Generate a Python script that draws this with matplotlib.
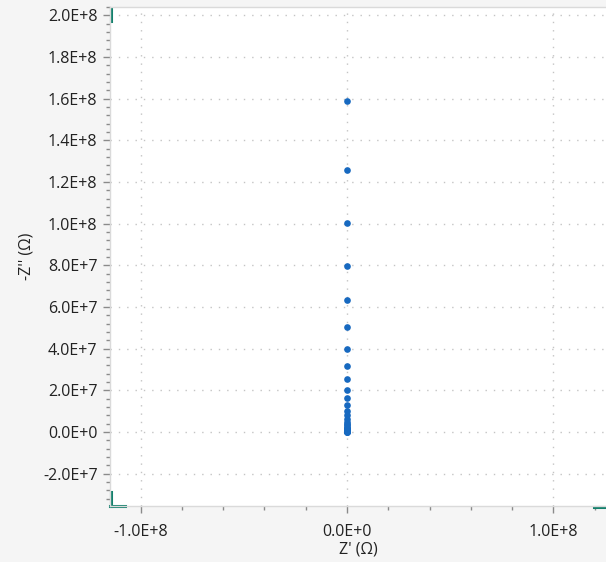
import matplotlib
matplotlib.use("Agg")
import matplotlib.pyplot as plt
from matplotlib.ticker import MultipleLocator, FuncFormatter

# Data
z_real = [0.0] * 31
z_imag_neg = [1.59e8, 1.26e8, 1.005e8, 7.98e7, 6.34e7, 5.03e7, 4.0e7, 3.18e7,
              2.55e7, 2.02e7, 1.62e7, 1.28e7, 1.01e7, 8.0e6, 6.34e6, 5.03e6,
              4.0e6, 3.18e6, 2.52e6, 2.0e6, 1.59e6, 1.26e6, 1.0e6, 7.98e5,
              6.34e5, 5.03e5, 4.0e5, 3.18e5, 2.52e5, 2.0e5, 1.59e5]
x_ticks = [-1.0e8, 0.0, 1.0e8]
y_ticks = [-2.0e7, 0.0, 2.0e7, 4.0e7, 6.0e7, 8.0e7, 1.0e8, 1.2e8, 1.4e8, 1.6e8, 1.8e8, 2.0e8]

plt.rcParams['font.family'] = ['Open Sans', 'DejaVu Sans']

W, H = 606, 562
fig = plt.figure(figsize=(W / 100, H / 100), dpi=100, facecolor='#f5f5f5')
L, R, T, B = 110, 606, 7, 506
ax = fig.add_axes([L / W, 1 - B / H, (R - L) / W, (B - T) / H])
ax.set_facecolor('white')

ax.plot(z_real, z_imag_neg, 'o', color='#1769c0', markersize=4.8, markeredgewidth=0, zorder=3)

ax.set_xlim(-1.148e8, 1.255e8)
ax.set_ylim(-3.55e7, 2.04e8)

def fmt(v, pos):
    if abs(v) < 1e-9:
        return '0.0E+0'
    s = '%.1E' % v
    mant, exp = s.split('E')
    return '%sE%s%d' % (mant, '+' if int(exp) >= 0 else '-', abs(int(exp)))

ax.set_xticks(x_ticks)
ax.set_yticks(y_ticks)
ax.xaxis.set_minor_locator(MultipleLocator(2e7))
ax.yaxis.set_minor_locator(MultipleLocator(4e6))
ax.xaxis.set_major_formatter(FuncFormatter(fmt))
ax.yaxis.set_major_formatter(FuncFormatter(fmt))

ax.tick_params(axis='both', which='major', length=5, width=1, color='#8a8a8a',
               labelsize=11.5, labelcolor='#222222', pad=4)
ax.tick_params(axis='both', which='minor', length=3, width=1, color='#8a8a8a')
ax.tick_params(axis='x', which='major', pad=8)

ax.grid(True, which='major', color='#c4c4c4', linestyle=(0, (1, 5)), linewidth=1)
ax.set_axisbelow(True)

for side in ['top', 'right', 'left', 'bottom']:
    ax.spines[side].set_color('#dadada')
    ax.spines[side].set_linewidth(1)
ax.spines['right'].set_visible(False)

ax.set_xlabel("Z' (\u03a9)", fontsize=11.5, color='#222222', labelpad=1)
ax.set_ylabel("-Z'' (\u03a9)", fontsize=11.5, color='#222222', labelpad=6)

# teal range markers
teal = '#13806c'
tr = ax.transAxes
ax.plot([0.002, 0.002], [0.972, 0.995], color=teal, lw=2.2, transform=tr, clip_on=False)
ax.plot([0.002, 0.002], [0.0, 0.028], color=teal, lw=2.2, transform=tr, clip_on=False)
ax.plot([0.0, 0.03], [0.0, 0.0], color=teal, lw=2.2, transform=tr, clip_on=False)
ax.plot([0.975, 1.0], [-0.003, -0.003], color=teal, lw=2.2, transform=tr, clip_on=False)

fig.savefig('out.png', dpi=100, facecolor=fig.get_facecolor())
